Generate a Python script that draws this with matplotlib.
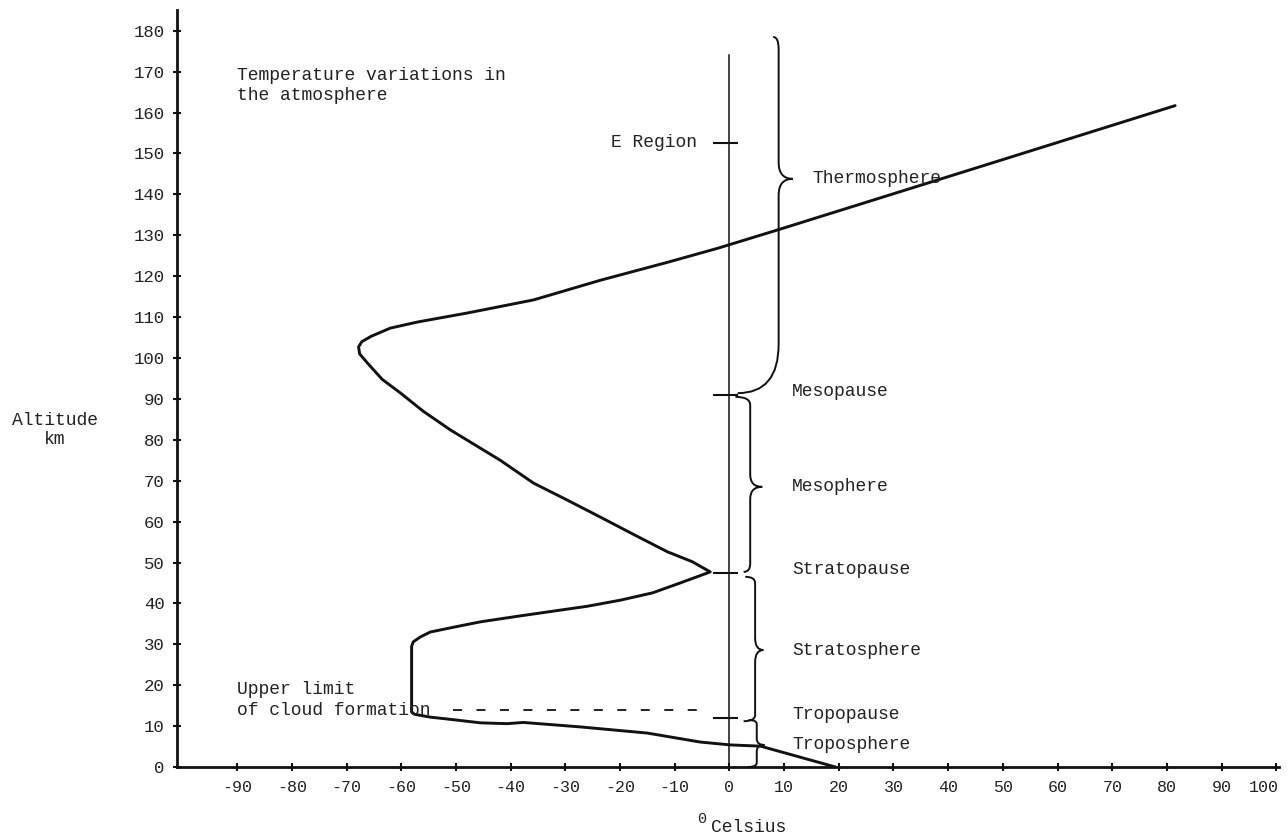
import numpy as np
import matplotlib.pyplot as plt
from matplotlib.path import Path
from matplotlib.patches import PathPatch
from matplotlib.transforms import ScaledTranslation

# Temperature profile (deg C) against altitude (km)
temp = [19.4, 10, 5.7, 0.2, -5.3, -15, -27.2, -37.7, -40.6, -45.5, -50, -54.7,
        -57.6, -58.1, -58.1, -57.8, -56.5, -54.7, -50, -45.5, -39, -33.3, -26,
        -19.9, -14, -9, -3.5, -6.8, -11.3, -17, -23.6, -30, -35.8, -41.9, -51,
        -56, -60.1, -63.5, -66.2, -67.6, -67.8, -67.2, -65.5, -62, -57, -47.9,
        -35.8, -23.6, -11.3, -2.2, 8.8, 28.2, 49.5, 81.5]
alt = [0, 3.5, 5.1, 5.4, 6.1, 8.3, 9.8, 10.9, 10.6, 10.8, 11.5, 12.2,
       12.9, 13.5, 29.5, 30.6, 31.8, 33, 34.3, 35.5, 36.8, 37.9, 39.3,
       40.8, 42.6, 45, 47.7, 50.2, 52.6, 56.5, 61.1, 65.5, 69.4, 75, 82.4,
       87, 91.4, 94.8, 98.8, 101, 102.7, 104, 105.3, 107.3, 108.8, 111,
       114.2, 119, 123.4, 126.8, 131.3, 139.4, 148.3, 161.7]

# Layers: bottom, top and where the brace points
layer_names = ["Troposphere", "Stratosphere", "Mesophere", "Thermosphere"]
layer_bottom = [0, 11.2, 47.7, 91.4]
layer_top = [11.5, 46.5, 90.5, 178.5]
layer_mid = [5.4, 28.6, 68.5, 143.8]

# Boundary marks on the 0 degree line
mark_names = ["Tropopause", "Stratopause", "Mesopause", "E Region"]
mark_alt = [12, 47.4, 91, 152.6]

x_ticks = list(range(-90, 101, 10))
y_ticks = list(range(0, 181, 10))

cloud_alt = 13.9

plt.rcParams['font.family'] = ['Liberation Mono', 'DejaVu Sans Mono']
plt.rcParams['axes.unicode_minus'] = False
INK = '#111111'
TXT = '#222222'

fig = plt.figure(figsize=(12.88, 8.38), dpi=100)
ax = fig.add_axes([0.1374, 0.0847, 0.8557, 0.903])
ax.set_xlim(-101, 100.5)
ax.set_ylim(0, 185)

for s in ['top', 'right']:
    ax.spines[s].set_visible(False)
for s in ['left', 'bottom']:
    ax.spines[s].set_linewidth(2.0)
    ax.spines[s].set_color(INK)

ax.set_xticks(x_ticks)
ax.set_yticks(y_ticks)
ax.tick_params(direction='inout', length=6, width=1.5, color=INK,
               labelsize=12.5, labelcolor=TXT)
ax.tick_params(axis='x', pad=6, labelsize=12)
ax.tick_params(axis='y', pad=6)
# keep the last x label inside the page
last = ax.get_xticklabels()[-1]
last.set_transform(last.get_transform() + ScaledTranslation(-9 / 72, 0, fig.dpi_scale_trans))

# temperature curve
ax.plot(temp, alt, color=INK, lw=2.1, solid_capstyle='round', solid_joinstyle='round')

# zero line with boundary marks
ax.plot([0, 0], [0, 174], color=INK, lw=1.1)
for a in mark_alt:
    ax.plot([-2.8, 1.4], [a, a], color=INK, lw=1.5)

# upper limit of cloud formation
ax.plot([-50.5, -5.5], [cloud_alt, cloud_alt], color=INK, lw=1.3, dashes=(5, 8))


def brace(xs, y0, y1, ytip, w, cb, ct, rb, rt, rtip):
    verts = [(xs - cb, y0), (xs, y0), (xs, y0 + rb),
             (xs, ytip - rtip), (xs, ytip), (xs + w, ytip),
             (xs, ytip), (xs, ytip + rtip),
             (xs, y1 - rt), (xs, y1), (xs - ct, y1)]
    codes = [Path.MOVETO, Path.CURVE3, Path.CURVE3,
             Path.LINETO, Path.CURVE3, Path.CURVE3,
             Path.CURVE3, Path.CURVE3,
             Path.LINETO, Path.CURVE3, Path.CURVE3]
    ax.add_patch(PathPatch(Path(verts, codes), fill=False, lw=1.4, ec=INK))


brace_style = [
    dict(xs=5.0, w=1.4, cb=1.7, ct=1.5, rb=1.0, rt=1.0, rtip=1.5),
    dict(xs=4.7, w=1.5, cb=2.1, ct=1.8, rb=1.5, rt=1.5, rtip=3),
    dict(xs=3.8, w=2.2, cb=1.2, ct=2.7, rb=2, rt=2, rtip=3),
    dict(xs=9.0, w=2.6, cb=7.5, ct=1.0, rb=12, rt=3, rtip=4),
]
for i in range(4):
    brace(y0=layer_bottom[i], y1=layer_top[i], ytip=layer_mid[i], **brace_style[i])

fs = 13
label_x = [11.5, 11.5, 11.5, 15.2]
for name, a, lx in zip(layer_names, layer_mid, label_x):
    ax.text(lx, a, name, fontsize=fs, va='center', ha='left', color=TXT)

for name, a in zip(mark_names, mark_alt):
    if name == "E Region":
        ax.text(-5.9, a, name, fontsize=fs, va='center', ha='right', color=TXT)
    else:
        ax.text(11.5, a + 0.8, name, fontsize=fs, va='center', ha='left', color=TXT)

ax.text(-90, 166.7, "Temperature variations in\nthe atmosphere", fontsize=fs,
        va='center', ha='left', linespacing=1.25, color=TXT)
ax.text(-90, 16.4, "Upper limit\nof cloud formation", fontsize=fs,
        va='center', ha='left', linespacing=1.25, color=TXT)

fig.text(55 / 1288, 1 - 430 / 838, "Altitude\nkm", fontsize=fs, ha='center',
         va='center', linespacing=1.2, color=TXT)
fig.text(749 / 1288, 1 - 827 / 838, "Celsius", fontsize=fs, ha='center',
         va='center', color=TXT)
fig.text(702 / 1288, 1 - 819 / 838, "0", fontsize=11, ha='center',
         va='center', color=TXT)

fig.savefig("out.png", dpi=100)
